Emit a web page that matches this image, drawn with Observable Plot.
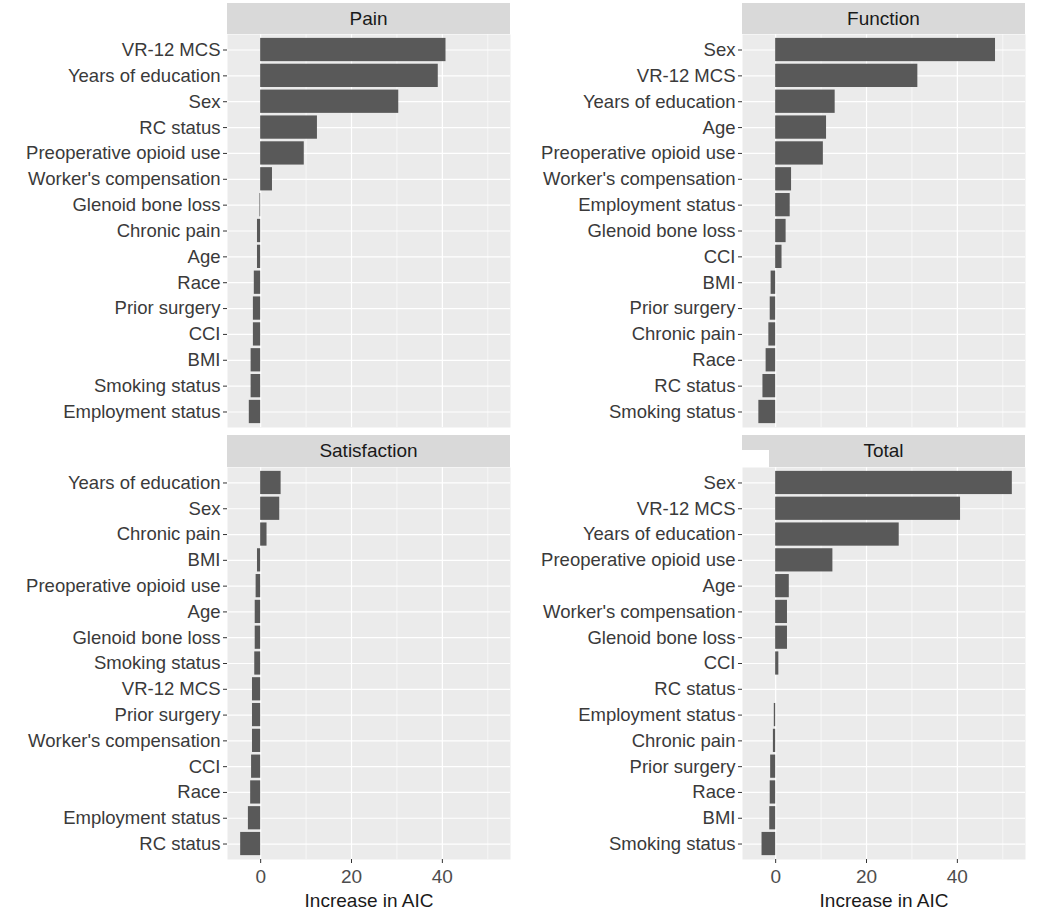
<!DOCTYPE html>
<html><head><meta charset="utf-8">
<script src="https://cdn.jsdelivr.net/npm/d3@7"></script>
<script src="https://cdn.jsdelivr.net/npm/@observablehq/plot@0.6"></script>
<style>
body{margin:0;background:#fff;font-family:"Liberation Sans",Arial,sans-serif;}
#wrap{position:relative;width:1050px;height:917px;overflow:hidden;background:#fff;}
.strip{position:absolute;background:#d9d9d9;color:#1a1a1a;font-size:19px;display:flex;align-items:center;justify-content:center;}
.panel{position:absolute;line-height:0;}
.patch{position:absolute;background:#fff;}
</style></head><body><div id="wrap"></div>
<script>
// ---- data ----
const painLabels = ["VR-12 MCS","Years of education","Sex","RC status","Preoperative opioid use","Worker's compensation","Glenoid bone loss","Chronic pain","Age","Race","Prior surgery","CCI","BMI","Smoking status","Employment status"];
const painValues = [40.8, 39.1, 30.4, 12.5, 9.6, 2.6, -0.15, -0.7, -0.7, -1.4, -1.6, -1.6, -2.1, -2.1, -2.5];

const functionLabels = ["Sex","VR-12 MCS","Years of education","Age","Preoperative opioid use","Worker's compensation","Employment status","Glenoid bone loss","CCI","BMI","Prior surgery","Chronic pain","Race","RC status","Smoking status"];
const functionValues = [48.4, 31.3, 13.1, 11.2, 10.5, 3.5, 3.2, 2.3, 1.4, -1.0, -1.2, -1.5, -2.1, -2.8, -3.7];

const satisfactionLabels = ["Years of education","Sex","Chronic pain","BMI","Preoperative opioid use","Age","Glenoid bone loss","Smoking status","VR-12 MCS","Prior surgery","Worker's compensation","CCI","Race","Employment status","RC status"];
const satisfactionValues = [4.5, 4.2, 1.4, -0.7, -1.0, -1.2, -1.2, -1.3, -1.8, -1.8, -1.8, -2.0, -2.2, -2.7, -4.4];

const totalLabels = ["Sex","VR-12 MCS","Years of education","Preoperative opioid use","Age","Worker's compensation","Glenoid bone loss","CCI","RC status","Employment status","Chronic pain","Prior surgery","Race","BMI","Smoking status"];
const totalValues = [52.1, 40.7, 27.2, 12.6, 3.0, 2.6, 2.6, 0.7, 0.0, -0.3, -0.5, -1.1, -1.2, -1.3, -3.0];

const panelTitles = ["Pain","Function","Satisfaction","Total"];
const xMajorTicks = [0, 20, 40];
const xMinorTicks = [10, 30, 50];
const xTitle = "Increase in AIC";
const xDomain = [-7.3, 55.0];

// ---- drawing ----
const wrap = document.getElementById("wrap");

function addPanel(title, labels, values, cfg) {
  const data = labels.map((l, i) => ({label: l, value: values[i]}));
  const strip = document.createElement("div");
  strip.className = "strip";
  strip.style.left = cfg.stripLeft + "px";
  strip.style.top = cfg.stripTop + "px";
  strip.style.width = cfg.stripWidth + "px";
  strip.style.height = cfg.stripHeight + "px";
  strip.textContent = title;
  wrap.appendChild(strip);

  const marks = [
    Plot.frame({fill: "#ebebeb", stroke: "none"}),
    Plot.gridX(xMinorTicks, {stroke: "white", strokeOpacity: 1, strokeWidth: 0.6}),
    Plot.gridX(xMajorTicks, {stroke: "white", strokeOpacity: 1, strokeWidth: 1.2}),
    Plot.gridY({stroke: "white", strokeOpacity: 1, strokeWidth: 1.2}),
    Plot.barX(data, {x: "value", y: "label", fill: "#595959"}),
    Plot.axisY({tickSize: 4, tickPadding: 3, fontSize: 18.5, label: null, stroke: "#333", fill: "#3a3a3a"})
  ];
  if (cfg.showX) {
    marks.push(Plot.axisX(xMajorTicks, {tickSize: 4, tickPadding: 6, fontSize: 19, label: null, stroke: "#333", fill: "#4d4d4d"}));
    marks.push(Plot.text([xTitle], {frameAnchor: "bottom", lineAnchor: "middle", dy: 41, fontSize: 19, fill: "#1a1a1a"}));
  }
  const chart = Plot.plot({
    width: cfg.width,
    height: cfg.height,
    marginLeft: cfg.mL,
    marginRight: cfg.mR,
    marginTop: 0,
    marginBottom: cfg.mB,
    style: {fontFamily: "'Liberation Sans', Arial, sans-serif", background: "transparent", overflow: "visible"},
    x: {domain: xDomain, axis: null},
    y: {type: "band", domain: labels, paddingInner: 0.1, paddingOuter: 0.15, round: false, axis: null},
    marks
  });
  const holder = document.createElement("div");
  holder.className = "panel";
  holder.style.left = cfg.left + "px";
  holder.style.top = cfg.top + "px";
  holder.appendChild(chart);
  wrap.appendChild(holder);
}

addPanel(panelTitles[0], painLabels, painValues,
  {left: 0, top: 34, width: 520, height: 393, mL: 227, mR: 10, mB: 0, showX: false,
   stripLeft: 227, stripTop: 3, stripWidth: 283, stripHeight: 31});
addPanel(panelTitles[1], functionLabels, functionValues,
  {left: 520, top: 34, width: 530, height: 393, mL: 222, mR: 25, mB: 0, showX: false,
   stripLeft: 742, stripTop: 3, stripWidth: 283, stripHeight: 31});
addPanel(panelTitles[2], satisfactionLabels, satisfactionValues,
  {left: 0, top: 467, width: 520, height: 450, mL: 227, mR: 10, mB: 58, showX: true,
   stripLeft: 227, stripTop: 435, stripWidth: 283, stripHeight: 32});
addPanel(panelTitles[3], totalLabels, totalValues,
  {left: 520, top: 467, width: 530, height: 450, mL: 222, mR: 25, mB: 58, showX: true,
   stripLeft: 742, stripTop: 435, stripWidth: 283, stripHeight: 32});

// white patch present over the corner of the "Total" strip in the reference
const patch = document.createElement("div");
patch.className = "patch";
patch.style.left = "742px"; patch.style.top = "450px";
patch.style.width = "27px"; patch.style.height = "17px";
wrap.appendChild(patch);
</script></body></html>
